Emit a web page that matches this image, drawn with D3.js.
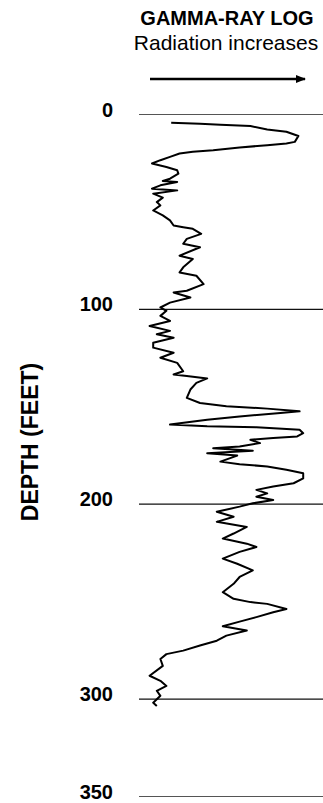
<!DOCTYPE html>
<html>
<head>
<meta charset="utf-8">
<script src="https://cdn.jsdelivr.net/npm/d3@7"></script>
<style>
  body { margin: 0; background: #fff; }
  svg { display: block; font-family: "Liberation Sans", Arial, Helvetica, sans-serif; }
</style>
</head>
<body>
<div id="container"></div>
<script>
/* CONSTANTS AND GLOBALS */
const width = 323,
  height = 803;

const depths = [4.5, 5.0, 5.5, 6.2, 7.9, 9.1, 11.3, 14.3, 15.1, 16.0, 17.2, 18.6, 19.4, 20.3, 22.0, 23.7,
  25.4, 27.2, 28.9, 30.6, 33.2, 34.4, 34.9, 36.6, 38.3, 39.2, 40.9, 42.9, 45.2, 46.9, 49.5, 52.0,
  54.6, 57.2, 58.1, 58.9, 61.5, 64.1, 66.6, 68.4, 72.7, 74.4, 78.7, 81.3, 83.0, 87.3, 90.7, 91.6,
  94.2, 96.8, 99.3, 101.0, 103.6, 106.2, 108.8, 111.3, 113.0, 114.8, 117.4, 119.9, 122.5, 125.1,
  127.7, 132.0, 133.7, 134.5, 135.7, 138.0, 141.4, 145.7, 148.3, 150.0, 151.2, 152.6, 153.4, 155.2,
  156.9, 159.4, 160.3, 160.8, 162.0, 163.8, 165.5, 166.3, 167.2, 168.9, 170.6, 171.5, 172.8, 174.1,
  175.3, 178.4, 179.7, 180.9, 182.6, 184.4, 187.0, 189.5, 191.2, 192.9, 194.7, 196.4, 198.1, 199.8,
  201.5, 204.1, 206.7, 209.3, 211.9, 215.3, 217.9, 220.5, 222.2, 224.7, 228.2, 230.8, 234.2, 237.6,
  241.1, 245.4, 248.8, 250.5, 251.4, 254.0, 255.7, 258.2, 260.5, 262.9, 265.1, 267.7, 270.3, 272.8,
  275.4, 277.2, 279.7, 283.2, 288.3, 290.9, 293.5, 296.0, 298.6, 302.1, 303.8];

const gamma = [26, 50, 67, 92, 106, 122, 132, 129, 122, 106, 83, 61, 44, 33, 25, 17,
  10, 22, 31, 32, 25, 19, 31, 17, 10, 31, 11, 19, 14, 17, 11, 19,
  25, 28, 36, 44, 51, 39, 36, 50, 33, 44, 36, 33, 47, 53, 39, 28,
  42, 25, 17, 22, 17, 25, 8, 25, 14, 28, 11, 11, 28, 17,
  31, 36, 28, 39, 56, 47, 42, 39, 50, 72, 106, 133, 117, 83,
  56, 25, 56, 97, 133, 136, 131, 111, 92, 100, 83, 61, 94, 56,
  81, 67, 83, 106, 122, 136, 136, 128, 111, 97, 106, 97, 111, 94,
  83, 64, 78, 64, 89, 78, 69, 89, 97, 83, 69, 81, 94, 83,
  78, 69, 78, 92, 106, 122, 111, 97, 83, 69, 89, 72, 64, 50,
  36, 22, 17, 19, 8, 17, 22, 14, 17, 11, 14];

const depthTicks = [0, 100, 200, 300, 350];
const titleText = "GAMMA-RAY LOG";
const subtitleText = "Radiation increases";
const axisLabel = "DEPTH (FEET)";

const logData = depths.map((d, i) => ({ depth: d, gamma: gamma[i] }));

/* SCALES */
const yScale = d3.scaleLinear().domain([0, 350]).range([114, 796]);
const xScale = d3.scaleLinear().domain([0, 150]).range([140, 320]);

/* SVG */
const svg = d3.select("#container")
  .append("svg")
  .attr("width", width)
  .attr("height", height)
  .attr("viewBox", [0, 0, width, height]);

// title + subtitle
svg.append("text")
  .attr("x", 227)
  .attr("y", 25)
  .attr("text-anchor", "middle")
  .attr("font-weight", "bold")
  .attr("font-size", 20)
  .text(titleText);

svg.append("text")
  .attr("x", 226)
  .attr("y", 50)
  .attr("text-anchor", "middle")
  .attr("font-size", 21)
  .text(subtitleText);

// arrow showing direction of increasing radiation
svg.append("defs").append("marker")
  .attr("id", "arrowhead")
  .attr("viewBox", "0 0 10 8")
  .attr("refX", 9)
  .attr("refY", 4)
  .attr("markerWidth", 10)
  .attr("markerHeight", 8)
  .attr("markerUnits", "userSpaceOnUse")
  .attr("orient", "auto")
  .append("path")
  .attr("d", "M0,0 L10,4 L0,8 Z")
  .attr("fill", "#000");

svg.append("line")
  .attr("x1", 150)
  .attr("x2", 305)
  .attr("y1", 79)
  .attr("y2", 79)
  .attr("stroke", "#000")
  .attr("stroke-width", 2.5)
  .attr("marker-end", "url(#arrowhead)");

// horizontal depth lines
const yAxis = d3.axisRight(yScale)
  .tickValues(depthTicks)
  .tickSize(width - 139)
  .tickFormat(d3.format("d"));

const gy = svg.append("g")
  .attr("transform", "translate(139,0)")
  .call(yAxis);

gy.select(".domain").remove();
gy.selectAll(".tick line")
  .attr("stroke", (d) => (d === 0 || d === 350) ? "#555" : "#111")
  .attr("stroke-width", 1.2);
gy.selectAll(".tick text")
  .attr("x", -26)
  .attr("dy", "0.1em")
  .attr("text-anchor", "end")
  .attr("font-family", "\"Liberation Sans\", Arial, sans-serif")
  .attr("font-weight", "bold")
  .attr("font-size", 20)
  .attr("fill", "#000");

// rotated axis label
svg.append("text")
  .attr("transform", "translate(38,442) rotate(-90)")
  .attr("text-anchor", "middle")
  .attr("font-weight", "bold")
  .attr("font-size", 23)
  .text(axisLabel);

// the log trace
const line = d3.line()
  .x(d => xScale(d.gamma))
  .y(d => yScale(d.depth));

svg.append("path")
  .datum(logData)
  .attr("d", line)
  .attr("fill", "none")
  .attr("stroke", "#000")
  .attr("stroke-width", 2)
  .attr("stroke-linejoin", "round");
</script>
</body>
</html>
